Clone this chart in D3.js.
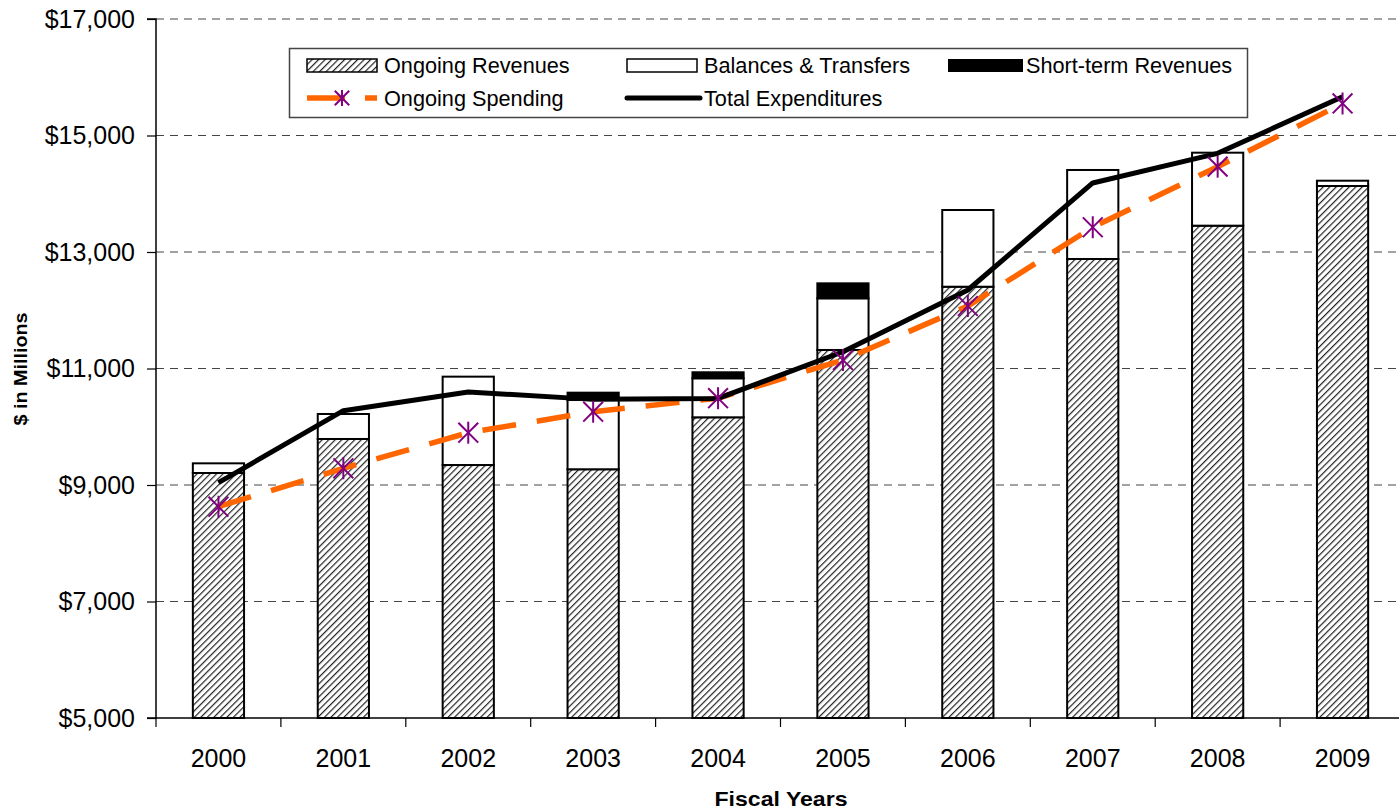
<!DOCTYPE html>
<html>
<head>
<meta charset="utf-8">
<script src="https://cdn.jsdelivr.net/npm/d3@7"></script>
<style>
  body { margin: 0; background: #fff; }
  svg { display: block; font-family: "Liberation Sans", Arial, sans-serif; }
</style>
</head>
<body>
<div id="chart"></div>
<script>
const years = ["2000", "2001", "2002", "2003", "2004", "2005", "2006", "2007", "2008", "2009"];
const ongoingRevenues = [9206, 9790, 9343, 9270, 10162, 11318, 12404, 12880, 13452, 14133];
const balancesTransfers = [166, 429, 1517, 1189, 670, 887, 1317, 1528, 1253, 91];
const shortTermRevenues = [0, 0, 0, 126, 103, 257, 0, 0, 0, 0];
const ongoingSpending = [8627, 9287, 9898, 10258, 10490, 11146, 12073, 13425, 14465, 15550];
const totalExpenditures = [9040, 10276, 10597, 10470, 10487, 11288, 12348, 14185, 14694, 15665];
const yTicks = [5000, 7000, 9000, 11000, 13000, 15000, 17000];

const W = 1399, H = 812;
const plotL = 156, plotR = 1405, plotT = 19, plotB = 718;

const svg = d3.select("#chart").append("svg")
  .attr("width", W).attr("height", H);

// hatch pattern for ongoing revenues
const defs = svg.append("defs");
const pat = defs.append("pattern")
  .attr("id", "hatch")
  .attr("patternUnits", "userSpaceOnUse")
  .attr("width", 4.6).attr("height", 4.6)
  .attr("patternTransform", "rotate(45)");
pat.append("rect").attr("width", 4.6).attr("height", 4.6).attr("fill", "#fff");
pat.append("line")
  .attr("x1", 0).attr("y1", 0).attr("x2", 0).attr("y2", 4.6)
  .attr("stroke", "#222").attr("stroke-width", 2.4);

const x = d3.scaleBand().domain(years).range([plotL, plotR]).padding(0);
const y = d3.scaleLinear().domain([5000, 17000]).range([plotB, plotT]);
const barW = x.bandwidth() * 0.41;
const cx = (d) => x(d) + x.bandwidth() / 2;

// Gridlines
svg.append("g")
  .selectAll("line")
  .data(yTicks.filter((t) => t > 5000))
  .join("line")
  .attr("x1", plotL).attr("x2", W)
  .attr("y1", (d) => y(d)).attr("y2", (d) => y(d))
  .attr("stroke", "#444")
  .attr("stroke-width", 1)
  .attr("stroke-dasharray", "8,6");

// Stacked bars
const stackData = years.map((yr, i) => ({
  year: yr,
  segs: [
    { y0: 5000, y1: ongoingRevenues[i], fill: "url(#hatch)" },
    { y0: ongoingRevenues[i], y1: ongoingRevenues[i] + balancesTransfers[i], fill: "#fff" },
    {
      y0: ongoingRevenues[i] + balancesTransfers[i],
      y1: ongoingRevenues[i] + balancesTransfers[i] + shortTermRevenues[i],
      fill: "#000"
    }
  ].filter((s) => s.y1 > s.y0)
}));

const barG = svg.append("g")
  .selectAll("g")
  .data(stackData)
  .join("g");

barG.selectAll("rect")
  .data((d) => d.segs.map((s) => ({ ...s, year: d.year })))
  .join("rect")
  .attr("x", (d) => cx(d.year) - barW / 2)
  .attr("width", barW)
  .attr("y", (d) => y(d.y1))
  .attr("height", (d) => y(d.y0) - y(d.y1))
  .attr("fill", (d) => d.fill)
  .attr("stroke", "#000")
  .attr("stroke-width", 2);

// Ongoing spending (dashed orange)
const line = d3.line().x((d) => cx(d[0])).y((d) => y(d[1]));

svg.append("path")
  .datum(years.map((yr, i) => [yr, ongoingSpending[i]]))
  .attr("fill", "none")
  .attr("stroke", "#ff6600")
  .attr("stroke-width", 5.5)
  .attr("stroke-dasharray", "34,21")
  .attr("d", line);

// Total expenditures (solid black)
svg.append("path")
  .datum(years.map((yr, i) => [yr, totalExpenditures[i]]))
  .attr("fill", "none")
  .attr("stroke", "#000")
  .attr("stroke-width", 5)
  .attr("stroke-linejoin", "round")
  .attr("d", line);

// Star markers
function star(g, r) {
  g.append("line").attr("x1", 0).attr("y1", -r).attr("x2", 0).attr("y2", r);
  g.append("line").attr("x1", -r * 0.9).attr("y1", -r * 0.9).attr("x2", r * 0.9).attr("y2", r * 0.9);
  g.append("line").attr("x1", -r * 0.9).attr("y1", r * 0.9).attr("x2", r * 0.9).attr("y2", -r * 0.9);
}
svg.append("g")
  .selectAll("g")
  .data(years.map((yr, i) => [yr, ongoingSpending[i]]))
  .join("g")
  .attr("transform", (d) => `translate(${cx(d[0])},${y(d[1])})`)
  .attr("stroke", "#800080")
  .attr("stroke-width", 2)
  .each(function () { star(d3.select(this), 11); });

// Y axis
svg.append("g")
  .attr("transform", `translate(${plotL},0)`)
  .call(d3.axisLeft(y).tickValues(yTicks).tickSize(9).tickPadding(12)
    .tickFormat((d) => "$" + d3.format(",")(d)))
  .call((g) => g.select(".domain").attr("stroke", "#000").attr("stroke-width", 1.5)
    .attr("d", `M-9,${plotT}H0V${plotB}H-9`))
  .call((g) => g.selectAll(".tick line").attr("stroke", "#000").attr("stroke-width", 1.2))
  .selectAll("text")
  .attr("fill", "#000")
  .attr("font-size", "25px")
  .attr("font-family", "Liberation Sans, Arial, sans-serif");

// X axis
const xAxis = svg.append("g").attr("transform", `translate(0,${plotB})`);
xAxis.append("line")
  .attr("x1", plotL).attr("x2", W).attr("y1", 0).attr("y2", 0)
  .attr("stroke", "#000").attr("stroke-width", 1.5);
xAxis.selectAll(".bt")
  .data(years.concat(["end"]))
  .join("line")
  .attr("class", "bt")
  .attr("x1", (d, i) => plotL + i * x.step()).attr("x2", (d, i) => plotL + i * x.step())
  .attr("y1", 0).attr("y2", 9)
  .attr("stroke", "#000").attr("stroke-width", 1.2);
xAxis.append("g")
  .call(d3.axisBottom(x).tickSize(0).tickPadding(31))
  .call((g) => g.select(".domain").remove())
  .selectAll("text")
  .attr("fill", "#000")
  .attr("font-size", "25px")
  .attr("font-family", "Liberation Sans, Arial, sans-serif");

// Axis titles
svg.append("text")
  .attr("x", 781).attr("y", 806)
  .attr("text-anchor", "middle")
  .attr("font-weight", "bold")
  .attr("font-size", "21px")
  .attr("textLength", 133)
  .attr("lengthAdjust", "spacingAndGlyphs")
  .text("Fiscal Years");

svg.append("text")
  .attr("transform", "translate(27,369) rotate(-90)")
  .attr("text-anchor", "middle")
  .attr("font-weight", "bold")
  .attr("font-size", "19px")
  .attr("textLength", 113)
  .attr("lengthAdjust", "spacingAndGlyphs")
  .text("$ in Millions");

// Legend
const lg = svg.append("g");
lg.append("rect")
  .attr("x", 289.5).attr("y", 48.5).attr("width", 958).attr("height", 69)
  .attr("fill", "#fff").attr("stroke", "#444").attr("stroke-width", 1.5);

const r1 = 65, r2 = 98;
const fontL = "21.7px";
lg.append("rect").attr("x", 307).attr("y", r1 - 6).attr("width", 70).attr("height", 13)
  .attr("fill", "url(#hatch)").attr("stroke", "#000").attr("stroke-width", 1.5);
lg.append("rect").attr("x", 627).attr("y", r1 - 6).attr("width", 70).attr("height", 13)
  .attr("fill", "#fff").attr("stroke", "#000").attr("stroke-width", 1.5);
lg.append("rect").attr("x", 948).attr("y", r1 - 6).attr("width", 75).attr("height", 13)
  .attr("fill", "#000");

lg.append("line").attr("x1", 307).attr("x2", 377).attr("y1", r2).attr("y2", r2)
  .attr("stroke", "#ff6600").attr("stroke-width", 5.5).attr("stroke-dasharray", "38,20,12");
const lgStar = lg.append("g").attr("transform", `translate(342,${r2})`)
  .attr("stroke", "#800080").attr("stroke-width", 2);
star(lgStar, 8);
lg.append("line").attr("x1", 627).attr("x2", 700).attr("y1", r2).attr("y2", r2)
  .attr("stroke", "#000").attr("stroke-width", 5).attr("stroke-linecap", "round");

const legendText = [
  { x: 384, y: r1, t: "Ongoing Revenues" },
  { x: 704, y: r1, t: "Balances & Transfers" },
  { x: 1026, y: r1, t: "Short-term Revenues" },
  { x: 384, y: r2, t: "Ongoing Spending" },
  { x: 704, y: r2, t: "Total Expenditures" }
];
lg.selectAll("text.lt")
  .data(legendText)
  .join("text")
  .attr("class", "lt")
  .attr("x", (d) => d.x).attr("y", (d) => d.y)
  .attr("dy", "0.35em")
  .attr("font-size", fontL)
  .attr("fill", "#000")
  .text((d) => d.t);
</script>
</body>
</html>
